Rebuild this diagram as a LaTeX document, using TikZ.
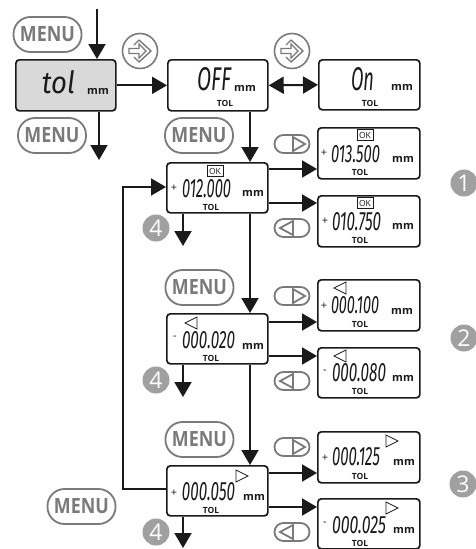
\documentclass[tikz,border=0pt]{standalone}
\usepackage{fontspec}
\usepackage{graphicx}
\setmainfont{Open Sans}
\newfontfamily\segfont{Fira Sans}
\usetikzlibrary{arrows.meta,calc}
\definecolor{ink}{HTML}{1A1A1A}
\definecolor{btn}{HTML}{7A7A7A}
\definecolor{lcdgray}{HTML}{D9D9D9}
\definecolor{badge}{HTML}{A0A0A0}
\tikzset{
  x=1pt,y=-1pt,
  lcd/.style={draw=ink,line width=1.7pt,rounded corners=3.5pt,fill=white,inner sep=0pt,anchor=north west},
  conn/.style={draw=ink,line width=2pt,-{Triangle[length=15pt,width=17pt]}},
  link/.style={draw=ink,line width=2pt},
  menubtn/.style={draw=btn,line width=1.8pt,rounded corners=17pt,minimum width=68pt,minimum height=35pt,inner sep=0pt,fill=white},
  numbadge/.style={circle,fill=badge,text=white,minimum size=27pt,inner sep=0pt,font=\fontsize{23}{23}\selectfont},
  mmlabel/.style={inner sep=0pt,text=ink,font=\fontsize{11}{11}\selectfont\bfseries},
  tollabel/.style={inner sep=0pt,text=ink,font=\fontsize{8.5}{8.5}\selectfont\bfseries},
  signlabel/.style={inner sep=0pt,text=ink,font=\fontsize{11}{11}\selectfont},
  oklabel/.style={draw=ink,line width=0.8pt,inner sep=0pt,minimum width=16pt,minimum height=11pt,text=ink,font=\fontsize{8.5}{8.5}\selectfont},
  enterbtn/.pic={
    \draw[btn,line width=1.6pt] (0,0) circle (17.5);
    \draw[btn,line width=1.4pt,line join=miter] (-1,-11) -- (11,0) -- (-1,11) -- (-6,6);
    \draw[btn,line width=1.4pt] (-6,-6) -- (-1,-11);
    \draw[btn,line width=1.4pt,line join=miter] (-11,-2.5) -- (-1,-2.5) -- (-1,-7) -- (6,0) -- (-1,7) -- (-1,2.5) -- (-11,2.5) -- cycle;
  },
  rbtn/.pic={
    \draw[btn,line width=1.8pt] (-8.5,-9) -- (8.5,-9) arc (-90:90:9) -- (-8.5,9) arc (90:270:9) -- cycle;
    \draw[btn,line width=1.8pt,line join=miter] (1,-7) -- (13,0) -- (1,7) -- cycle;
  },
  lbtn/.pic={
    \draw[btn,line width=1.8pt] (-8.5,-9) -- (8.5,-9) arc (-90:90:9) -- (-8.5,9) arc (90:270:9) -- cycle;
    \draw[btn,line width=1.8pt,line join=miter] (1,-7) -- (-12,0) -- (1,7) -- cycle;
  },
  ltri/.pic={\draw[ink,line width=0.8pt,line join=miter] (6,-6) -- (-6,0) -- (6,6) -- cycle;},
  rtri/.pic={\draw[ink,line width=0.8pt,line join=miter] (-6,-6) -- (6,0) -- (-6,6) -- cycle;},
}
\newcommand{\lcdbox}[6][white]{%
  \node[lcd,fill=#1,minimum width=#4pt-#2pt,minimum height=#5pt-#3pt] (#6) at (#2,#3) {};}
\newcommand{\segtext}[6]{%
  \pgfmathsetmacro\segw{#4-#2}\pgfmathsetmacro\segh{#5-#3}%
  \node[inner sep=0pt,text=ink] (#1) at ({(#2+#4)/2},{(#3+#5)/2})
    {\resizebox{\segw pt}{\segh pt}{\segfont\itshape #6}};}
\newcommand{\menubutton}[3]{%
  \node[menubtn] (#1) at (#2,#3) {\textcolor{btn}{\resizebox{55pt}{15pt}{\bfseries MENU}}};}
\begin{document}
\begin{tikzpicture}
\useasboundingbox (0,0) rectangle (476,549);
% displays
\lcdbox[lcdgray]{15}{59}{115}{110}{tol}
\lcdbox{167}{59}{267}{110}{off}
\lcdbox{318}{59}{419}{109}{on}
\lcdbox{166}{162}{267}{212}{a}
\lcdbox{317}{127}{419}{178}{ar}
\lcdbox{317}{195}{419}{246}{al}
\lcdbox{166}{313}{267}{363}{b}
\lcdbox{317}{279}{419}{330}{br}
\lcdbox{317}{347}{419}{397}{bl}
\lcdbox{166}{465}{267}{515}{c}
\lcdbox{317}{431}{419}{482}{cr}
\lcdbox{317}{498}{419}{548}{cl}
% guide coordinates
\coordinate (topin) at (97,9);
\coordinate (tolout) at (99,160);
\coordinate (trunk) at (250,0);
\coordinate (drop) at (183,0);
\coordinate (loopx) at (123,0);
\coordinate (enda) at (183,246);
\coordinate (endb) at (183,397);
\coordinate (endc) at (183,548);
\coordinate (ya1) at (0,169);\coordinate (ya2) at (0,203);
\coordinate (yb1) at (0,322);\coordinate (yb2) at (0,356);
\coordinate (yc1) at (0,473);\coordinate (yc2) at (0,507);
\coordinate (yloopin) at (0,187);\coordinate (yloopout) at (0,489);
% connectors
\draw[conn] (topin) -- (topin |- tol.north);
\draw[conn] (tolout |- tol.south) -- (tolout);
\draw[conn] (tol.east) -- (off.west);
\draw[link,{Triangle[length=15pt,width=17pt]}-{Triangle[length=15pt,width=17pt]}] (off.east) -- (on.west);
\draw[conn] (trunk |- off.south) -- (trunk |- a.north);
\draw[conn] (trunk |- a.south) -- (trunk |- b.north);
\draw[conn] (trunk |- b.south) -- (trunk |- c.north);
\draw[conn] (a.east |- ya1) -- (ar.west |- ya1);
\draw[conn] (a.east |- ya2) -- (al.west |- ya2);
\draw[conn] (b.east |- yb1) -- (br.west |- yb1);
\draw[conn] (b.east |- yb2) -- (bl.west |- yb2);
\draw[conn] (c.east |- yc1) -- (cr.west |- yc1);
\draw[conn] (c.east |- yc2) -- (cl.west |- yc2);
\draw[conn] (drop |- a.south) -- (enda);
\draw[conn] (drop |- b.south) -- (endb);
\draw[conn] (drop |- c.south) -- (endc);
\draw[conn] (c.west |- yloopout) -- (loopx |- yloopout) -- (loopx |- yloopin) -- (a.west |- yloopin);
% display digits
\segtext{ttol}{42}{71}{75}{94}{tol}
\segtext{toff}{197}{68}{231}{91}{OFF}
\segtext{ton}{351}{68}{374}{91}{On}
\segtext{ta}{182}{180}{231}{198}{012.000}
\segtext{tar}{331}{146}{380}{163}{013.500}
\segtext{tal}{332}{213}{381}{231}{010.750}
\segtext{tb}{182}{332}{235}{349}{000.020}
\segtext{tbr}{331}{297}{379}{314}{000.100}
\segtext{tbl}{332}{364}{386}{382}{000.080}
\segtext{tc}{182}{483}{235}{501}{000.050}
\segtext{tcr}{332}{448}{380}{466}{000.125}
\segtext{tcl}{332}{517}{386}{534}{000.025}
% units
\node[mmlabel] (m1) at (98,91) {mm};
\node[mmlabel] (m2) at (245,88) {mm};
\node[mmlabel] (m3) at (402,87) {mm};
\node[mmlabel] (m4) at (253,193) {mm};
\node[mmlabel] (m5) at (403,159) {mm};
\node[mmlabel] (m6) at (403,226) {mm};
\node[mmlabel] (m7) at (253,346) {mm};
\node[mmlabel] (m8) at (402,311) {mm};
\node[mmlabel] (m9) at (403,378) {mm};
\node[mmlabel] (m10) at (254,497) {mm};
\node[mmlabel] (m11) at (404,462) {mm};
\node[mmlabel] (m12) at (404,530) {mm};
% TOL
\node[tollabel] (l2) at (225,103) {TOL};
\node[tollabel] (l3) at (370,103) {TOL};
\node[tollabel] (l4) at (211,207) {TOL};
\node[tollabel] (l5) at (360,172) {TOL};
\node[tollabel] (l6) at (360,240) {TOL};
\node[tollabel] (l7) at (211,358) {TOL};
\node[tollabel] (l8) at (360,324) {TOL};
\node[tollabel] (l9) at (360,391) {TOL};
\node[tollabel] (l10) at (211,510) {TOL};
\node[tollabel] (l11) at (360,476) {TOL};
\node[tollabel] (l12) at (360,543) {TOL};
% signs
\node[signlabel] (s1) at (174,188) {+};
\node[signlabel] (s2) at (324,153) {+};
\node[signlabel] (s3) at (325,221) {+};
\node[signlabel] (s4) at (175,338) {-};
\node[signlabel] (s5) at (324,306) {+};
\node[signlabel] (s6) at (325,372) {-};
\node[signlabel] (s7) at (174,493) {+};
\node[signlabel] (s8) at (325,458) {+};
\node[signlabel] (s9) at (325,524) {-};
% OK
\node[oklabel] (k1) at (215,171) {OK};
\node[oklabel] (k2) at (365,135) {OK};
\node[oklabel] (k3) at (365,203) {OK};
% indicators
\pic at (191,323) {ltri};
\pic at (340,288) {ltri};
\pic at (340,356) {ltri};
\pic at (242,476) {rtri};
\pic at (392,441) {rtri};
\pic at (392,508) {rtri};
% buttons
\menubutton{mb1}{47.5}{34.5}
\menubutton{mb2}{52}{135.5}
\menubutton{mb3}{199}{135.5}
\menubutton{mb4}{199.5}{287.5}
\menubutton{mb5}{199.5}{439.5}
\menubutton{mb6}{81.5}{506.5}
\pic at (140,51) {enterbtn};
\pic at (292,51) {enterbtn};
\pic at (292,144) {rbtn};
\pic at (292,228) {lbtn};
\pic at (292,296) {rbtn};
\pic at (292,381) {lbtn};
\pic at (292,447) {rbtn};
\pic at (292,532) {lbtn};
% badges
\node[numbadge] (n1) at (464,183) {1};
\node[numbadge] (n2) at (464,338) {2};
\node[numbadge] (n3) at (463,484) {3};
\node[numbadge] (n4a) at (156,228) {4};
\node[numbadge] (n4b) at (156,380) {4};
\node[numbadge] (n4c) at (156,532) {4};
\end{tikzpicture}
\end{document}
